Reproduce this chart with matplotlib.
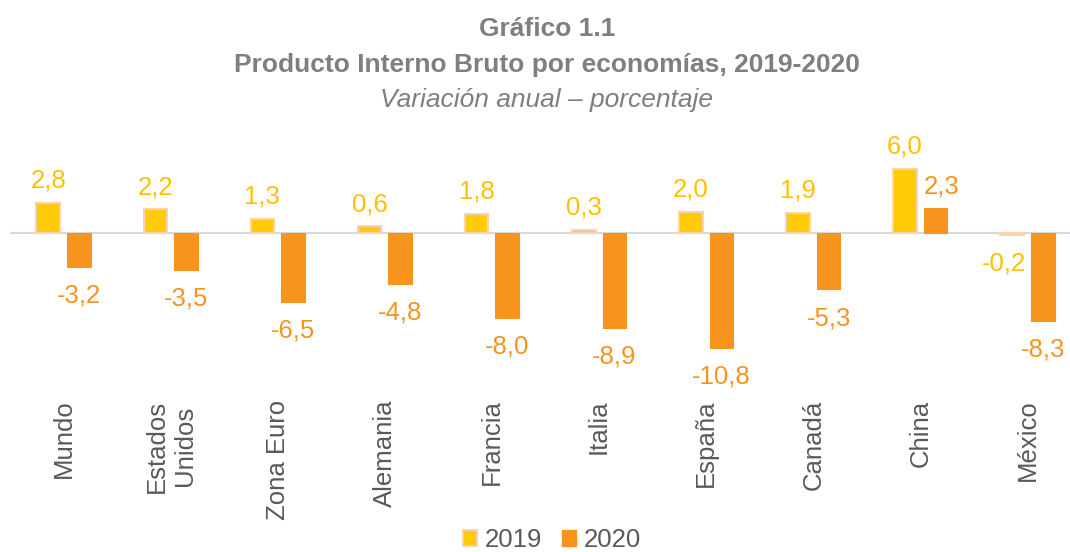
import numpy as np
import matplotlib
matplotlib.use("Agg")
import matplotlib.pyplot as plt
from matplotlib.patches import Patch

categorias = ["Mundo", "Estados\nUnidos", "Zona Euro", "Alemania", "Francia",
              "Italia", "España", "Canadá", "China", "México"]
pib_2019 = [2.8, 2.2, 1.3, 0.6, 1.8, 0.3, 2.0, 1.9, 6.0, -0.2]
pib_2020 = [-3.2, -3.5, -6.5, -4.8, -8.0, -8.9, -10.8, -5.3, 2.3, -8.3]
series = ["2019", "2020"]

C19, C19_EDGE, C19_TXT = "#FFCA08", "#F9D3AE", "#FFC000"
C20, C20_TXT = "#F7941E", "#F7941E"
GRIS = "#7F7F7F"
GRIS_TXT = "#595959"

plt.rcParams["font.family"] = ["Liberation Sans", "DejaVu Sans"]

W, H = 1070, 552
fig = plt.figure(figsize=(W / 100, H / 100), dpi=100)
ax = fig.add_axes([10 / W, 1 - 398 / H, 1071 / W, (398 - 137) / H])

x = np.arange(len(categorias))
off, bw = 0.143, 0.22
ax.bar(x - off, pib_2019, bw, color=C19, edgecolor=C19_EDGE, linewidth=1.5, zorder=3)
ax.bar(x + off, pib_2020, bw, color=C20, edgecolor=C20, linewidth=0.8, zorder=3)

ax.axhline(0, color="#D9D9D9", lw=1.6, zorder=2)

def etiquetas(xs, vals, color, dx_pos=0, dx_neg=0):
    for xi, v in zip(xs, vals):
        txt = f"{v:.1f}".replace(".", ",")
        if v >= 0:
            ax.annotate(txt, (xi, v), xytext=(dx_pos, 11), textcoords="offset points",
                        ha="center", va="baseline", fontsize=18.5, color=color)
        else:
            ax.annotate(txt, (xi, v), xytext=(dx_neg, -12), textcoords="offset points",
                        ha="center", va="top", fontsize=18.5, color=color)

etiquetas(x - off, pib_2019, C19_TXT, dx_neg=-6)
etiquetas(x + off, pib_2020, C20_TXT, dx_pos=4)

ax.set_xlim(-0.5, len(categorias) - 0.5)
ax.set_ylim(-15.5, 9)
ax.set_xticks(x)
ax.set_xticklabels(categorias, rotation=90, fontsize=18.5, color=GRIS_TXT,
                   va="top", ha="center", multialignment="center")
ax.tick_params(axis="x", length=0, pad=1)
ax.set_yticks([])
for s in ax.spines.values():
    s.set_visible(False)
ax.patch.set_alpha(0)

# titulos
xt = 547 / W
fig.text(xt, 1 - 36 / H, "Gráfico 1.1", ha="center", va="baseline",
         fontsize=19, fontweight="bold", color=GRIS)
fig.text(xt, 1 - 72 / H, "Producto Interno Bruto por economías, 2019-2020", ha="center",
         va="baseline", fontsize=19, fontweight="bold", color=GRIS)
fig.text(xt, 1 - 107 / H, "Variación anual – porcentaje", ha="center", va="baseline",
         fontsize=19, style="italic", color=GRIS)

handles = [Patch(facecolor=C19, edgecolor=C19_EDGE, linewidth=1.5),
           Patch(facecolor=C20, edgecolor=C20)]
leg = fig.legend(handles, series, loc="center", bbox_to_anchor=(552 / W, 1 - 540 / H),
                 ncol=2, frameon=False, fontsize=18.5, handlelength=0.55, handleheight=0.55,
                 handletextpad=0.27, columnspacing=0.8, borderpad=0)
for t in leg.get_texts():
    t.set_color(GRIS_TXT)

fig.savefig("out.png", dpi=100)
